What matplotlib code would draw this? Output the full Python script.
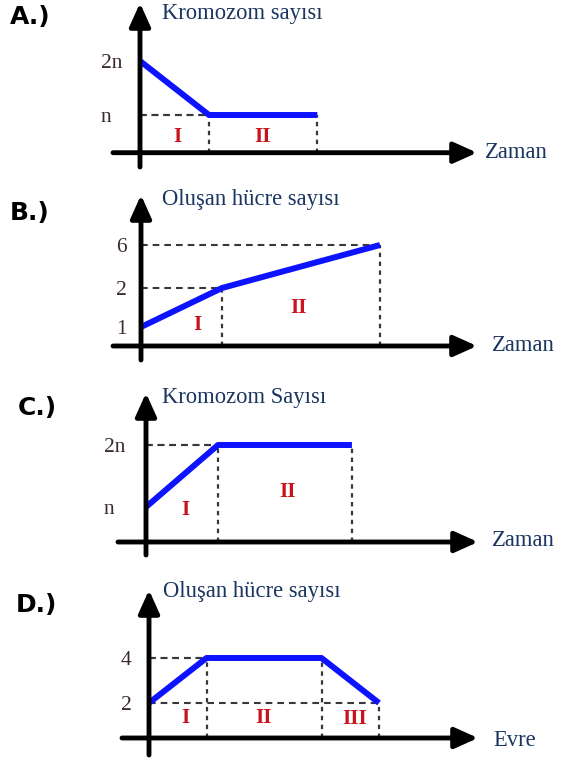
import numpy as np
import matplotlib
matplotlib.use("Agg")
import matplotlib.pyplot as plt

# ---------------- data ----------------
A_time = [0, 1, 2.57]
A_count = [2, 1, 1]            # 2n -> n -> n
A_ticks = [1, 2]
A_ticklabels = ["n", "2n"]
A_phases = ["I", "II"]

B_time = [0, 1, 2.95]
B_cells = [1, 2, 6]
B_ticks = [1, 2, 6]
B_ticklabels = ["1", "2", "6"]
B_phases = ["I", "II"]

C_time = [0, 1, 2.86]
C_count = [1, 2, 2]            # n -> 2n -> 2n
C_ticks = [1, 2]
C_ticklabels = ["n", "2n"]
C_phases = ["I", "II"]

D_time = [0, 1, 3, 4]
D_cells = [2, 4, 4, 2]
D_ticks = [2, 4]
D_ticklabels = ["2", "4"]
D_phases = ["I", "II", "III"]

# ---------------- layout ----------------
W, H = 564, 759
fig = plt.figure(figsize=(W / 100, H / 100), dpi=100)
fig.patch.set_facecolor("white")

SERIF = ["Liberation Serif", "DejaVu Serif"]
TITLE_COL = "#1a3560"
TICK_COL = "#3a2a30"
ROMAN_COL = "#c8141e"
LINE_COL = "#0d12ff"
DASH_COL = "#383838"

panels = [
    dict(letter="A.)", letter_xy=(10, 17), title="Kromozom sayısı", title_xy=(162, 14),
         xlabel="Zaman", xlabel_xy=(485, 152),
         x=A_time, y=A_count, ticks=A_ticks, ticklabels=A_ticklabels, phases=A_phases,
         origin=140, xaxis=152.7, tip=477, top=3, left=113, bottom=167, ppu=69,
         yvals=[0, 1, 2, 3], ypx=[0, 37.7, 91.7, 149.7], label_x=101,
         phase_x=[0.54, 1.78], phase_y=[15.7, 15.7]),
    dict(letter="B.)", letter_xy=(10, 213), title="Oluşan hücre sayısı", title_xy=(162, 200),
         xlabel="Zaman", xlabel_xy=(492, 345),
         x=B_time, y=B_cells, ticks=B_ticks, ticklabels=B_ticklabels, phases=B_phases,
         origin=141, xaxis=346, tip=477, top=195, left=113, bottom=360, ppu=81,
         yvals=[0, 1, 2, 6, 8], ypx=[0, 19, 58, 101, 151], label_x=116,
         phase_x=[0.70, 1.94], phase_y=[21, 38]),
    dict(letter="C.)", letter_xy=(18, 408), title="Kromozom Sayısı", title_xy=(162, 398),
         xlabel="Zaman", xlabel_xy=(492, 541),
         x=C_time, y=C_count, ticks=C_ticks, ticklabels=C_ticklabels, phases=C_phases,
         origin=146, xaxis=542, tip=478, top=393, left=118, bottom=555, ppu=72,
         yvals=[0, 1, 2, 3], ypx=[0, 35, 97, 149], label_x=104,
         phase_x=[0.54, 1.96], phase_y=[32, 50]),
    dict(letter="D.)", letter_xy=(16, 605), title="Oluşan hücre sayısı", title_xy=(163, 592),
         xlabel="Evre", xlabel_xy=(493, 740),
         x=D_time, y=D_cells, ticks=D_ticks, ticklabels=D_ticklabels, phases=D_phases,
         origin=149, xaxis=738, tip=478, top=590, left=122, bottom=755, ppu=57.5,
         yvals=[0, 2, 4, 6], ypx=[0, 35, 80, 148], label_x=121,
         phase_x=[0.63, 2.0, 3.58], phase_y=[20, 20, 19]),
]


def fpx(x, y):
    return x / W, 1 - y / H


for p in panels:
    w_px = p["tip"] - p["origin"]
    h_px = p["xaxis"] - p["top"]
    ax = fig.add_axes([p["origin"] / W, 1 - p["xaxis"] / H, w_px / W, h_px / H])
    ax.patch.set_alpha(0)
    for s in ax.spines.values():
        s.set_visible(False)

    yv = np.array(p["yvals"], float)
    yp = np.array(p["ypx"], float)
    ax.set_yscale("function",
                  functions=(lambda v, yv=yv, yp=yp: np.interp(v, yv, yp),
                             lambda q, yv=yv, yp=yp: np.interp(q, yp, yv)))
    ax.set_xlim(0, w_px / p["ppu"])
    ax.set_ylim(yv[0], yv[-1])
    ax.set_xticks([])
    ax.set_yticks(p["ticks"], p["ticklabels"])
    pad_pt = (p["origin"] - p["label_x"]) * 0.72
    ax.tick_params(axis="y", length=0, pad=pad_pt, labelsize=15.5, labelcolor=TICK_COL)
    for t in ax.get_yticklabels():
        t.set_horizontalalignment("left")
        t.set_fontfamily(SERIF)

    xs, ys = p["x"], p["y"]
    # dashed guide lines
    for xi, yi in zip(xs[1:], ys[1:]):
        ax.plot([xi, xi], [0, yi], ls=(0, (2.0, 2.0)), lw=1.6, color=DASH_COL, zorder=2)
        ax.plot([0, xi], [yi, yi], ls=(0, (3.2, 2.4)), lw=1.5, color=DASH_COL, zorder=2)

    # main line
    ax.plot(xs, ys, color=LINE_COL, lw=4.3, solid_joinstyle="round",
            solid_capstyle="butt", zorder=4)

    # axes with arrows
    xl = -(p["origin"] - p["left"]) / w_px
    yb = -(p["bottom"] - p["xaxis"]) / h_px
    arrow = dict(arrowstyle="-|>,head_length=1.0,head_width=0.45", lw=3.5,
                 color="black", shrinkA=0, shrinkB=0, mutation_scale=14)
    ax.annotate("", xy=(1, 0), xytext=(xl, 0), xycoords="axes fraction",
                textcoords="axes fraction", arrowprops=arrow, zorder=5)
    ax.annotate("", xy=(0, 1), xytext=(0, yb), xycoords="axes fraction",
                textcoords="axes fraction", arrowprops=arrow, zorder=5)

    # phase labels
    for lab, px_, py_ in zip(p["phases"], p["phase_x"], p["phase_y"]):
        ax.text(px_, py_ / h_px, lab, transform=ax.get_xaxis_transform(),
                ha="center", va="center", fontsize=15, fontweight="bold",
                color=ROMAN_COL, family=SERIF)

    # texts
    fig.text(*fpx(*p["title_xy"]), p["title"], ha="left", va="center",
             fontsize=16.3, color=TITLE_COL, family=SERIF)
    fig.text(*fpx(*p["xlabel_xy"]), p["xlabel"], ha="left", va="center",
             fontsize=16.3, color=TITLE_COL, family=SERIF)
    fig.text(*fpx(*p["letter_xy"]), p["letter"], ha="left", va="center",
             fontsize=18, fontweight="bold", color="black", family=["DejaVu Sans"])

fig.savefig("out.png", dpi=100, facecolor="white")
